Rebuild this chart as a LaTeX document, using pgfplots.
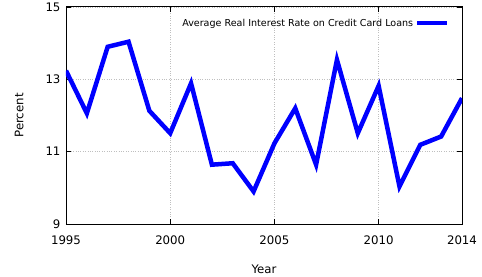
\documentclass[border=0pt]{standalone}
\usepackage{pgfplots}
\pgfplotsset{compat=1.18}
\usepackage{fontspec}
\setmainfont{DejaVu Sans}
\begin{document}
\begin{tikzpicture}
\useasboundingbox (-66bp,-53bp) rectangle (416bp,224bp);
\begin{axis}[
  at={(0,0)}, anchor=south west,
  scale only axis,
  width=396bp, height=217bp,
  xmin=1995, xmax=2014, ymin=9, ymax=15,
  xtick={1995,2000,2005,2010,2014},
  ytick={9,11,13,15},
  xticklabel style={/pgf/number format/1000 sep={}, yshift=-8bp},
  yticklabel style={xshift=-2bp},
  /pgf/number format/assume math mode=true,
  tick label style={font=\fontsize{11.8}{14}\selectfont},
  label style={font=\fontsize{11.8}{14}\selectfont},
  xlabel={Year}, ylabel={Percent},
  xlabel style={at={(rel axis cs:0.5,-0.207)}, anchor=center},
  ylabel style={at={(rel axis cs:-0.118,0.5)}, anchor=center},
  grid=major,
  major grid style={gray!50, dotted, line width=0.6pt},
  axis line style={black, line width=1pt},
  tick style={black, line width=0.7pt},
  major tick length=5bp,
  tick align=inside,
  legend style={draw=none, fill=none, at={(0.977,0.965)}, anchor=north east,
    font=\fontsize{9.6}{11}\selectfont, legend cell align=right},
  legend plot pos=right,
  legend image code/.code={\draw[#1, line width=4.5bp] (0bp,0bp) -- (30bp,0bp);},
]
\addplot[blue, line width=4.5bp] coordinates {
(1995,13.24) (1996,12.06) (1997,13.90) (1998,14.04) (1999,12.13)
(2000,11.51) (2001,12.89) (2002,10.64) (2003,10.68) (2004,9.90)
(2005,11.23) (2006,12.20) (2007,10.64) (2008,13.54) (2009,11.51)
(2010,12.82) (2011,10.04) (2012,11.19) (2013,11.42) (2014,12.48)
};
\addlegendentry{Average Real Interest Rate on Credit Card Loans}
\end{axis}
\end{tikzpicture}
\end{document}
